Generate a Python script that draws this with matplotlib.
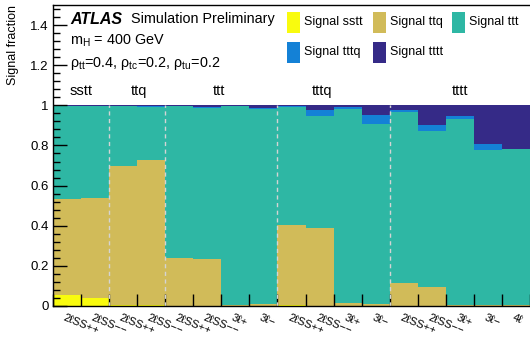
import numpy as np
import matplotlib
matplotlib.use("Agg")
import matplotlib.pyplot as plt
from matplotlib.patches import Rectangle
from matplotlib.ticker import MultipleLocator, FormatStrFormatter

plt.rcParams['font.family'] = ['Liberation Sans', 'DejaVu Sans']
plt.rcParams['mathtext.fontset'] = 'custom'
plt.rcParams['mathtext.rm'] = 'Liberation Sans'
plt.rcParams['mathtext.it'] = 'Liberation Sans:italic'
plt.rcParams['mathtext.bf'] = 'Liberation Sans:bold'

# Signal regions (bins) and their process groups
bin_labels = ["2ℓSS++", "2ℓSS−−",
              "2ℓSS++", "2ℓSS−−",
              "2ℓSS++", "2ℓSS−−", "3ℓ+", "3ℓ−",
              "2ℓSS++", "2ℓSS−−", "3ℓ+", "3ℓ−",
              "2ℓSS++", "2ℓSS−−", "3ℓ+", "3ℓ−", "4ℓ"]
group_names = ["sstt", "ttq", "ttt", "tttq", "tttt"]
group_sizes = [2, 2, 4, 4, 5]
group_label_x = [1.0, 3.05, 5.9, 9.6, 14.5]

# Signal fractions per bin for each process
frac_sstt = [0.055, 0.038, 0.005, 0.004, 0.002, 0.002, 0.000, 0.000,
             0.003, 0.002, 0.000, 0.000, 0.002, 0.002, 0.000, 0.000, 0.000]
frac_ttq = [0.480, 0.499, 0.695, 0.722, 0.238, 0.233, 0.006, 0.008,
            0.402, 0.388, 0.013, 0.012, 0.113, 0.094, 0.005, 0.004, 0.003]
frac_ttt = [0.460, 0.458, 0.297, 0.264, 0.755, 0.753, 0.990, 0.975,
            0.587, 0.558, 0.970, 0.897, 0.854, 0.775, 0.929, 0.772, 0.777]
frac_tttq = [0.002, 0.003, 0.002, 0.008, 0.002, 0.002, 0.002, 0.004,
             0.004, 0.030, 0.007, 0.045, 0.007, 0.031, 0.012, 0.032, 0.004]
frac_tttt = [0.003, 0.002, 0.001, 0.002, 0.003, 0.010, 0.002, 0.013,
             0.004, 0.022, 0.010, 0.046, 0.024, 0.098, 0.054, 0.192, 0.216]

series = [("Signal sstt", frac_sstt, "#F9FB0E"),
          ("Signal ttq", frac_ttq, "#D1BB59"),
          ("Signal ttt", frac_ttt, "#2EB7A4"),
          ("Signal tttq", frac_tttq, "#1481D6"),
          ("Signal tttt", frac_tttt, "#352A87")]

W, H = 530, 338
fig = plt.figure(figsize=(W / 100, H / 100), dpi=100)
ax = fig.add_axes([53 / W, 32 / H, 477 / W, 301 / H])

nb = len(bin_labels)
x = np.arange(nb) + 0.5
bottom = np.zeros(nb)
for name, vals, col in series:
    v = np.array(vals)
    ax.bar(x, v, width=1.0, bottom=bottom, color=col, linewidth=0, zorder=1)
    bottom += v

ax.set_xlim(0, nb)
ax.set_ylim(0, 1.5)

# Group separators
edges = np.cumsum(group_sizes)[:-1]
ax.vlines(edges, 0, 1, colors="#d4d4d4", linestyles=(0, (3, 2.5)), lw=1.0, zorder=2)

# Group names above the stack
for g, gx in zip(group_names, group_label_x):
    ax.text(gx, 1.05, g, ha="center", va="baseline", fontsize=10.5)

# Axis styling
ax.spines["right"].set_visible(False)
for sp in ["left", "bottom", "top"]:
    ax.spines[sp].set_linewidth(1.0)
ax.yaxis.set_major_locator(MultipleLocator(0.2))
ax.yaxis.set_minor_locator(MultipleLocator(0.04))
ax.yaxis.set_major_formatter(FormatStrFormatter("%g"))
ax.tick_params(axis="y", which="major", direction="in", length=10, width=1,
               labelsize=9.5, pad=3)
ax.tick_params(axis="y", which="minor", direction="in", length=5, width=1)
ax.set_xticks(np.arange(0, nb + 1))
ax.set_xticklabels([])
ax.tick_params(axis="x", which="major", direction="in", length=9, width=1)

# Bin labels, tilted
for xi, lab in zip(x, bin_labels):
    ax.text(xi - 0.05, -0.022, lab, transform=ax.get_xaxis_transform(),
            rotation=-22, rotation_mode="anchor", ha="left", va="top",
            fontsize=8)

fig.text(13 / W, 1 - 5 / H, "Signal fraction", rotation=90, ha="center",
         va="top", fontsize=9)

# Header text
fig.text(70 / W, 1 - 23.5 / H, "ATLAS", fontsize=11.5, fontweight="bold",
         fontstyle="italic", va="baseline")
fig.text(131 / W, 1 - 23.5 / H, "Simulation Preliminary", fontsize=10.4,
         va="baseline")
fig.text(70 / W, 1 - 45 / H, r"m$_{\mathrm{H}}$ = 400 GeV", fontsize=10.4,
         va="baseline")
fig.text(70 / W, 1 - 66.5 / H,
         r"ρ$_{\mathrm{tt}}$=0.4, ρ$_{\mathrm{tc}}$=0.2, ρ$_{\mathrm{tu}}$=0.2",
         fontsize=10.4, va="baseline")

# Legend: two rows of colour boxes with labels (positions in pixels)
leg_slots = [(287, 12), (373, 12), (452, 12), (287, 42), (373, 42)]
box_w, box_h = 13, 21
for (name, _, col), (lx, ly) in zip(series, leg_slots):
    fig.patches.append(Rectangle((lx / W, 1 - (ly + box_h) / H), box_w / W,
                                 box_h / H, transform=fig.transFigure,
                                 facecolor=col, edgecolor="none"))
    fig.text((lx + box_w + 4) / W, 1 - (ly + box_h / 2) / H, name,
             fontsize=9, va="center", ha="left")

fig.savefig("out.png", dpi=100)
